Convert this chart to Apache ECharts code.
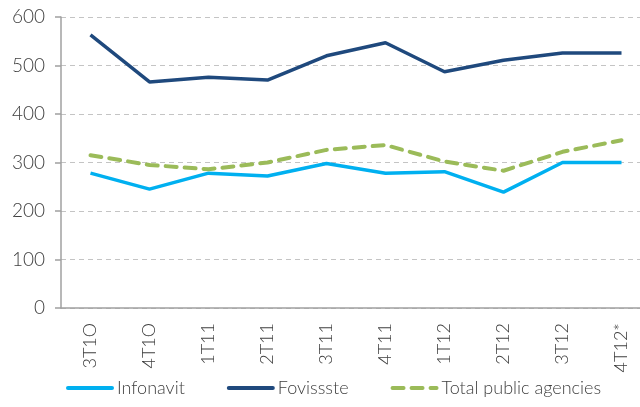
<!DOCTYPE html>
<html>
<head>
<meta charset="utf-8">
<script src="https://cdn.jsdelivr.net/npm/echarts@6/dist/echarts.min.js"></script>
<style>
  html, body { margin: 0; padding: 0; background: #fff; }
  #chart { width: 640px; height: 407px; }
</style>
</head>
<body>
<div id="chart"></div>
<script>
// quarters on the x axis
const quarters = ['3T1O', '4T1O', '1T11', '2T11', '3T11', '4T11', '1T12', '2T12', '3T12', '4T12*'];

// series values
const infonavit = [278, 245, 278, 272, 298, 278, 281, 239, 300, 300];
const fovissste = [563, 466, 476, 470, 520, 547, 487, 511, 526, 526];
const totalPublic = [315, 295, 286, 300, 326, 336, 302, 283, 322, 346];

const font = 'Lato';
const chart = echarts.init(document.getElementById('chart'));

chart.setOption({
  animation: false,
  grid: {
    left: 61, top: 17, width: 590, bottom: 99,
    outerBoundsMode: 'none'
  },
  legend: {
    left: 61, bottom: 5,
    itemWidth: 44, itemHeight: 10, itemGap: 42,
    itemStyle: { opacity: 0 },
    lineStyle: { width: 4, cap: 'round' },
    textStyle: { fontFamily: font, fontWeight: 300, fontSize: 18, color: '#404040' },
    data: ['Infonavit', 'Fovissste', 'Total public agencies']
  },
  xAxis: {
    type: 'category',
    data: quarters,
    axisLine: { lineStyle: { color: '#a0a0a0', width: 1.5 } },
    axisTick: { length: 7, lineStyle: { color: '#a0a0a0', width: 1.5 } },
    axisLabel: {
      rotate: 90, interval: 0, margin: 15,
      fontFamily: font, fontWeight: 300, fontSize: 18, color: '#404040'
    }
  },
  yAxis: {
    type: 'value',
    min: 0, max: 600, interval: 100,
    axisLine: { show: true, lineStyle: { color: '#a0a0a0', width: 1.5 } },
    axisTick: { show: true, length: 6, lineStyle: { color: '#a0a0a0', width: 1.5 } },
    axisLabel: { fontFamily: font, fontWeight: 300, fontSize: 19, color: '#404040', margin: 16 },
    splitLine: { lineStyle: { color: '#c4c4c4', type: [5, 4], width: 1 } }
  },
  series: [
    {
      name: 'Infonavit', type: 'line', data: infonavit,
      symbol: 'none', color: '#00b0f0',
      lineStyle: { width: 3.5, color: '#00b0f0' }
    },
    {
      name: 'Fovissste', type: 'line', data: fovissste,
      symbol: 'none', color: '#1f497d',
      lineStyle: { width: 3.5, color: '#1f497d' }
    },
    {
      name: 'Total public agencies', type: 'line', data: totalPublic,
      symbol: 'none', color: '#9bbb59',
      lineStyle: { width: 4, color: '#9bbb59', type: [11, 8], cap: 'round' }
    }
  ]
});
</script>
</body>
</html>
